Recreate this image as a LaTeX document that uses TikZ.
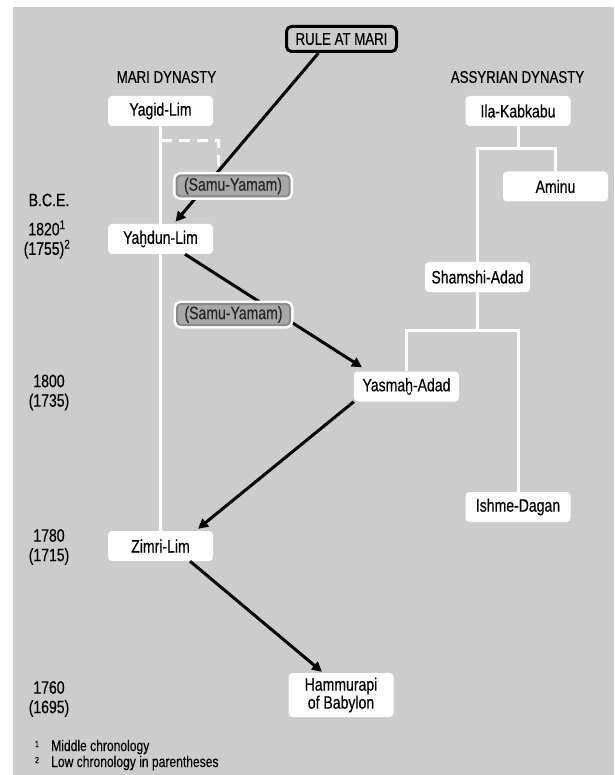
\documentclass[tikz,border=0pt]{standalone}
\usepackage{fontspec}
\setmainfont{Liberation Sans}[FakeStretch=0.78, FakeBold=0.4]
\usepackage{xcolor}
\usetikzlibrary{arrows.meta,positioning,calc}
\definecolor{bggrey}{HTML}{CCCCCC}
\definecolor{samudark}{HTML}{8A8A8A}
\definecolor{samulight}{HTML}{A8A8A8}
\newcommand\namefont{\fontsize{18}{18}\selectfont}
\newcommand\headfont{\fontsize{17}{18}\selectfont}
\newcommand\datefont{\fontsize{18}{19.5}\selectfont}
\newcommand\notefont{\fontsize{15.5}{16}\selectfont}
\tikzstyle{person} = [rectangle, rounded corners=4pt, fill=white, minimum width=105pt, minimum height=30pt, inner sep=2pt, align=center, font=\namefont]
\tikzstyle{ruler} = [rectangle, rounded corners=5pt, draw=black, line width=3pt, fill=bggrey, minimum width=110pt, minimum height=25pt, inner sep=1pt, font=\headfont]
\tikzstyle{samu} = [rectangle, rounded corners=4pt, preaction={draw=white, line width=7pt}, draw=samudark, line width=2pt, fill=samulight, minimum width=113pt, minimum height=21pt, inner sep=1pt, text=black!85, font=\namefont]
\tikzstyle{header} = [inner sep=0pt, font=\headfont]
\tikzstyle{date} = [inner sep=0pt, align=center, font=\datefont]
\tikzstyle{note} = [inner sep=0pt, anchor=west, font=\notefont]
\tikzstyle{notemark} = [inner sep=0pt, font=\fontsize{9}{10}\selectfont]
\tikzstyle{lineage} = [white, line width=3pt]
\tikzstyle{descent} = [black, line width=3pt, -{Triangle[length=10pt,width=10pt]}]

\begin{document}
\begin{tikzpicture}[x=1pt, y=-1pt]
    \useasboundingbox (0,0) rectangle (614,775);
    \fill[bggrey] (13,7) rectangle (614,775);

    \node[ruler] (rule) at (341.5,39) {RULE AT MARI};
    \node[header] (mari) at (166.5,77) {MARI DYNASTY};
    \node[header] (assyria) at (517.5,77) {ASSYRIAN DYNASTY};

    % Mari line
    \node[person] (yagid) at (160.5,111) {Yagid-Lim};
    \node[person] (yahdun) at (160.5,239) {Yaḫdun-Lim};
    \node[person] (zimri) at (160.5,546) {Zimri-Lim};
    \node[person, minimum height=44pt] (hammurapi) at (341,695) {Hammurapi\\of Babylon};

    % Assyrian line
    \node[person] (ila) at (518,111) {Ila-Kabkabu};
    \node[person] (aminu) at (555.5,186.5) {Aminu};
    \node[person] (shamshi) at (477.5,277) {Shamshi-Adad};
    \node[person] (yasmah) at (406.5,386.5) {Yasmaḫ-Adad};
    \node[person] (ishme) at (518,507) {Ishme-Dagan};

    \draw[lineage] (yagid.south) -- (yahdun.north);
    \draw[lineage] (yahdun.south) -- (zimri.north);
    \draw[lineage] (ila.south) -- ++(0,22) coordinate (ilafork);
    \draw[lineage] (shamshi.north) |- (ilafork) -| (aminu.north);
    \draw[lineage] (shamshi.south) -- ++(0,38) coordinate (shamfork);
    \draw[lineage] (yasmah.north) |- (shamfork) -| (ishme.north);
    \draw[lineage, dash pattern=on 11pt off 7pt] ([yshift=-14pt]yagid.south) -| (218,176);

    % rule passes down
    \draw[descent] ([xshift=-23pt]rule.south) -- ([xshift=15pt,yshift=2pt]yahdun.north);
    \draw[descent] ([xshift=24.5pt]yahdun.south) -- ([xshift=-44.5pt,yshift=4pt]yasmah.north);
    \draw[descent] (yasmah.south west) -- ([xshift=37.5pt,yshift=2pt]zimri.north);
    \draw[descent] ([xshift=29.5pt]zimri.south) -- ([xshift=-19pt,yshift=1pt]hammurapi.north);

    \node[samu] (samuA) at (233,186) {(Samu-Yamam)};
    \node[samu] (samuB) at (233.5,314.5) {(Samu-Yamam)};

    % dates
    \node[date] (bce) at (49,200) {B.C.E.};
    \node[date] (d1820) at (47,239.5) {1820\textsuperscript{1}\\(1755)\textsuperscript{2}};
    \node[date] (d1800) at (49,392.5) {1800\\(1735)};
    \node[date] (d1780) at (49,547) {1780\\(1715)};
    \node[date] (d1760) at (49,699) {1760\\(1695)};

    % footnotes
    \node[notemark] (mk1) at (37,744) {1};
    \node[note] (fn1) at (51,747) {Middle chronology};
    \node[notemark] (mk2) at (37,760) {2};
    \node[note] (fn2) at (51,763) {Low chronology in parentheses};
\end{tikzpicture}
\end{document}
